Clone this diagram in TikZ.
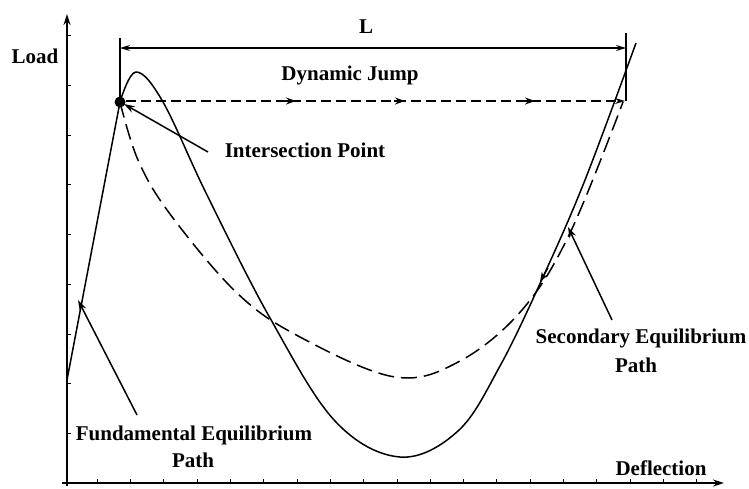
\documentclass[tikz,border=0pt]{standalone}
\usepackage{fontspec}
\setmainfont{Liberation Serif}
\usetikzlibrary{arrows.meta}
\begin{document}
\begin{tikzpicture}[x=1pt,y=-1pt,
  lbl/.style={font=\fontsize{21}{24}\selectfont\bfseries, inner sep=0pt, anchor=base},
  axisline/.style={line width=1.5pt, -{Stealth[length=11pt,width=7pt]}},
  tick/.style={line width=1pt},
  curve/.style={line width=1.5pt},
  dcurve/.style={line width=1.5pt, dash pattern=on 16pt off 7pt},
  jump/.style={line width=1.3pt, dash pattern=on 10pt off 5pt},
  ptr/.style={line width=1.5pt, -{Stealth[length=11pt,width=7pt]}},
  dim/.style={line width=1.2pt},
  midtip/.style={line width=1.2pt, -{Stealth[length=10pt,width=7pt]}}]
\useasboundingbox (0,0) rectangle (749,488);

% axes
\coordinate (ybot) at (67,486);
\coordinate (ytop) at (67,14);
\coordinate (xbeg) at (62,483);
\coordinate (xend) at (724,483);
\draw[axisline] (ybot) -- (ytop);
\draw[axisline] (xbeg) -- (xend);
\foreach \yy in {35,85,135,184,234,284,334,383,433}
  \draw[tick] (67,\yy) -- ++(4,0);
\foreach \k in {1,...,19}
  \draw[tick] ({64+33.3*\k},483) -- ++(0,-4);

% intersection point
\node[circle, fill, inner sep=0pt, minimum size=11pt] (ip) at (120,102) {};

% fundamental path
\coordinate (f0) at (67,380);
\draw[curve] (f0) -- (ip.center);

% solid curve
\draw[curve] plot[smooth, tension=0.6] coordinates {
  (120,102) (136,72) (163,102) (207,195) (270,318) (335,421) (400,457)
  (458,431) (500,366) (543,277) (585,180) (636,43)};

% dashed curve
\draw[dcurve] plot[smooth, tension=0.6] coordinates {
  (120,102) (138,160) (170,214) (237,293) (300,337) (395,377) (460,361)
  (522,310) (570,233) (623,102)};
\draw[midtip] (548,268) -- (540,282);

% L dimension
\coordinate (La) at (120,38);
\coordinate (Lb) at (626,33);
\coordinate (Lc) at (626,101);
\coordinate (L1) at (120,48);
\coordinate (L2) at (626,48);
\draw[dim] (La) -- (ip.center);
\draw[dim] (Lb) -- (Lc);
\draw[dim, {Stealth[length=10pt,width=6pt]}-{Stealth[length=10pt,width=6pt]}] (L1) -- (L2);
\node[lbl] (Ltext) at (366,33) {L};

% dynamic jump
\coordinate (j1) at (126,101);
\coordinate (j2) at (625,101);
\draw[jump, -{Stealth[length=10pt,width=6pt]}] (j1) -- (j2);
\foreach \xx in {296,405,535}
  \draw[midtip] (\xx-11,101) -- (\xx,101);
\node[lbl] (dj) at (350,80) {Dynamic Jump};

% labels
\node[lbl] (load) at (35,63) {Load};
\node[lbl] (ipt) at (305,157) {Intersection Point};
\node[lbl] (sec1) at (641,343) {Secondary Equilibrium};
\node[lbl] (sec2) at (636,372) {Path};
\node[lbl] (fun1) at (194,440) {Fundamental Equilibrium};
\node[lbl] (fun2) at (193,467) {Path};
\node[lbl] (defl) at (661,475) {Deflection};

% pointers
\coordinate (ipTail) at (208,152);
\coordinate (ipTip) at (124,104);
\draw[ptr] (ipTail) -- (ipTip);
\coordinate (fTail) at (137,415);
\coordinate (fTip) at (78,300);
\draw[ptr] (fTail) -- (fTip);
\coordinate (sTail) at (612,320);
\coordinate (sTip) at (568,227);
\draw[ptr] (sTail) -- (sTip);
\end{tikzpicture}
\end{document}
